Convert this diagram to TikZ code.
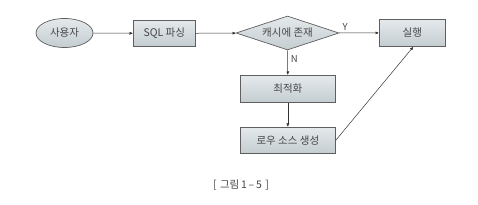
\documentclass[tikz,border=0pt]{standalone}
\usepackage{fontspec}
\setmainfont{Noto Sans CJK KR}
\usetikzlibrary{shapes.geometric,arrows.meta}
\definecolor{txt}{RGB}{70,70,70}
\definecolor{edge}{RGB}{95,95,95}
\definecolor{ftop}{RGB}{228,233,235}
\definecolor{fbot}{RGB}{196,205,209}
\tikzset{
  box/.style={draw=edge, line width=0.7pt, top color=ftop, bottom color=fbot, text=txt, font=\fontsize{10.5}{12}\selectfont, inner sep=0pt, anchor=north west},
  conn/.style={draw=black!80, line width=0.5pt, -{Latex[length=3.5pt,width=3pt]}},
  lbl/.style={text=txt, font=\fontsize{9.5}{11}\selectfont, inner sep=0pt}
}
\begin{document}
\begin{tikzpicture}[x=1pt,y=-1pt]
\useasboundingbox (0,0) rectangle (478,205);
\node[box, ellipse, minimum width=57pt, minimum height=29pt, anchor=center] (user) at (64.5,33) {사용자};
\node[box, minimum width=62pt, minimum height=26pt] (sql) at (133,20) {SQL 파싱};
\node[box, diamond, aspect=3, minimum width=103pt, minimum height=34pt, anchor=center] (cache) at (287.5,33) {캐시에 존재};
\node[box, minimum width=66pt, minimum height=27pt] (exec) at (379,19) {실행};
\node[box, minimum width=95pt, minimum height=27pt] (opt) at (240,75) {최적화};
\node[box, minimum width=95pt, minimum height=26pt] (row) at (240,127) {로우 소스 생성};
\draw[conn] (user) -- (sql);
\draw[conn] (sql) -- (cache);
\draw[conn] (cache) -- node[lbl, pos=0.15, above=2.5pt] (ylbl) {Y} (exec);
\draw[conn] (cache) -- node[lbl, pos=0.35, right=3pt] (nlbl) {N} (opt);
\draw[conn] (opt) -- (row);
\draw[conn] (row.east) -- ([xshift=1pt]exec.south);
\node[text=txt, font=\fontsize{10.5}{12}\selectfont] (cap) at (241,185) {[\,\,그림\,1\,–\,5\,\,]};
\end{tikzpicture}
\end{document}
